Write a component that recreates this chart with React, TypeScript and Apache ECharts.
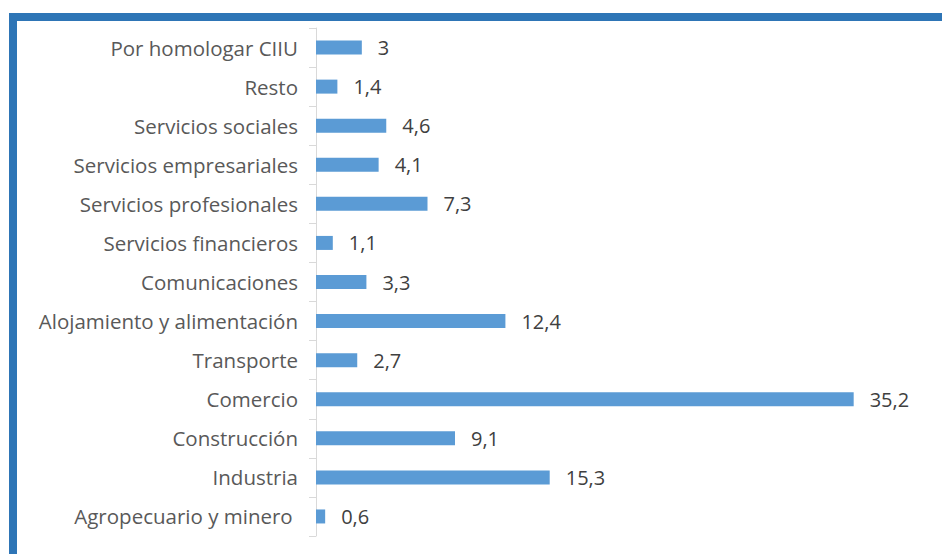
import React, { useEffect, useRef } from "react";
import * as echarts from "echarts";

const categories = [
  "Agropecuario y minero ",
  "Industria",
  "Construcción",
  "Comercio",
  "Transporte",
  "Alojamiento y alimentación",
  "Comunicaciones",
  "Servicios financieros",
  "Servicios profesionales",
  "Servicios empresariales",
  "Servicios sociales",
  "Resto",
  "Por homologar CIIU",
];
const values = [0.6, 15.3, 9.1, 35.2, 2.7, 12.4, 3.3, 1.1, 7.3, 4.1, 4.6, 1.4, 3];

const FONT = "'Open Sans', sans-serif";

export default function App() {
  const ref = useRef<HTMLDivElement>(null);
  useEffect(() => {
    if (!ref.current) return;
    const chart = echarts.init(ref.current, undefined, { renderer: "svg" });
    chart.setOption({
      animation: false,
      backgroundColor: "#ffffff",
      graphic: [
        { type: "rect", shape: { x: 9, y: 13, width: 933, height: 8 }, style: { fill: "#2E75B6" } },
        { type: "rect", shape: { x: 9, y: 13, width: 8, height: 541 }, style: { fill: "#2E75B6" } },
      ],
      grid: { left: 316, right: 15, top: 28, bottom: 18, containLabel: false },
      xAxis: {
        type: "value",
        min: 0,
        max: 40,
        show: false,
      },
      yAxis: {
        type: "category",
        data: categories,
        axisLine: { show: true, lineStyle: { color: "#D9D9D9", width: 1 } },
        axisTick: { show: true, length: 7, lineStyle: { color: "#D9D9D9" } },
        axisLabel: {
          margin: 18,
          color: "#595959",
          fontFamily: FONT,
          fontSize: 20.5,
        },
      },
      series: [
        {
          type: "bar",
          data: values,
          barWidth: 14,
          itemStyle: { color: "#5B9BD5" },
          label: {
            show: true,
            position: "right",
            distance: 16,
            color: "#404040",
            fontFamily: FONT,
            fontSize: 20,
            formatter: (p: any) => String(p.value).replace(".", ","),
          },
        },
      ],
    });
    return () => chart.dispose();
  }, []);
  return (
    <div
      ref={ref}
      style={{ position: "absolute", left: 0, top: 0, width: 942, height: 554 }}
    />
  );
}
